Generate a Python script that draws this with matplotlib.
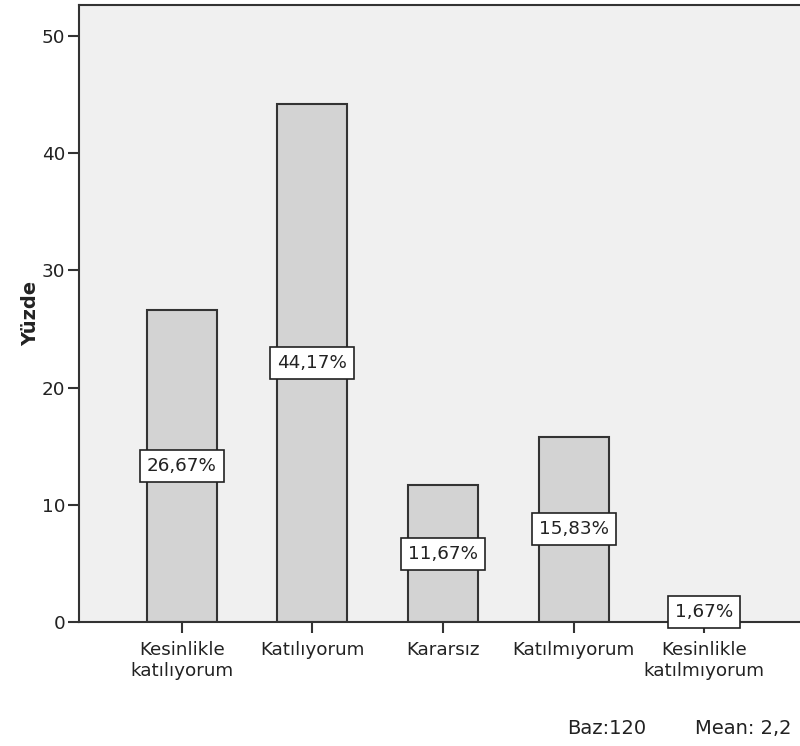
import numpy as np
import matplotlib.pyplot as plt

# veriler
kategoriler = ["Kesinlikle\nkatılıyorum", "Katılıyorum", "Kararsız",
               "Katılmıyorum", "Kesinlikle\nkatılmıyorum"]
yuzdeler = [26.67, 44.17, 11.67, 15.83, 1.67]
y_ticks = [0, 10, 20, 30, 40, 50]

plt.rcParams["font.family"] = "DejaVu Sans"

fig = plt.figure(figsize=(8, 7.46), dpi=100, facecolor="white")
ax = fig.add_axes([0.09875, 0.1662, 0.91, 0.827])
ax.set_facecolor("#f0f0f0")

x = np.arange(len(kategoriler))
ax.bar(x, yuzdeler, width=0.535, color="#d3d3d3", edgecolor="#333333", linewidth=1.5, zorder=2)

# yuzde etiketleri kutularda
for xi, v in zip(x, yuzdeler):
    ax.text(xi, v / 2, f"{v:.2f}%".replace(".", ","), ha="center", va="center",
            fontsize=13.2, color="#222222", zorder=4,
            bbox=dict(boxstyle="square,pad=0.38", facecolor="white", edgecolor="#222222", linewidth=1.2))

ax.set_xlim(-0.786, 4.786)
ax.set_ylim(0, 52.65)
ax.set_yticks(y_ticks)
ax.set_xticks(x)
ax.set_xticklabels(kategoriler, fontsize=13.2, color="#222222", linespacing=1.15)
ax.tick_params(axis="y", labelsize=13.2, labelcolor="#222222", length=8, width=1.5, color="#333333", pad=2)
ax.tick_params(axis="x", length=8, width=1.5, color="#333333", pad=6)
ax.set_ylabel("Yüzde", fontsize=14, fontweight="bold", color="#222222", labelpad=1)

for s in ax.spines.values():
    s.set_linewidth(1.5)
    s.set_color("#333333")

fig.text(0.709, 0.024, "Baz:120", fontsize=14, color="#222222", ha="left", va="center")
fig.text(0.869, 0.024, "Mean: 2,2", fontsize=14, color="#222222", ha="left", va="center")

plt.savefig("out.png", dpi=100)
